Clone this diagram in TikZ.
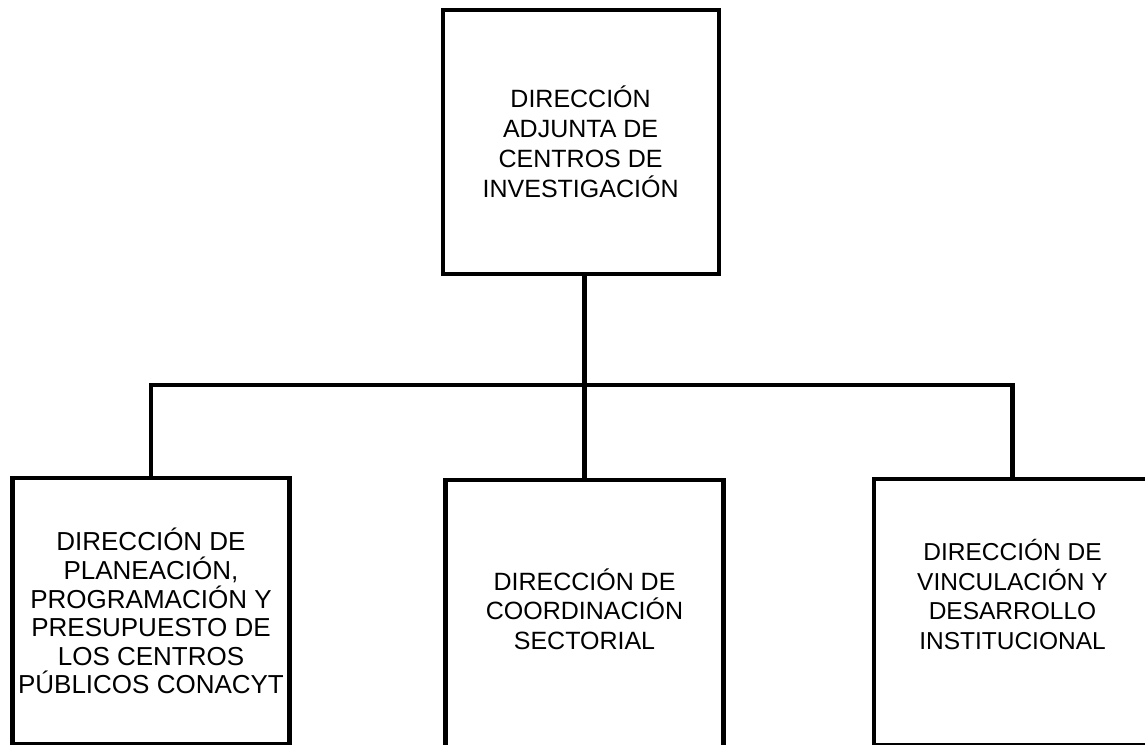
\documentclass[tikz,border=0pt]{standalone}
\usepackage{fontspec}
\setmainfont{Liberation Sans}
\begin{document}
\begin{tikzpicture}[x=1pt,y=1pt,
    unidad/.style={draw, line width=4.2pt, line join=miter, rectangle, anchor=north,
      inner sep=0pt, outer sep=0pt, minimum width=277pt, minimum height=266pt,
      align=center, font=\fontsize{25}{30}\selectfont},
    rotulo/.style={align=center, font=\fontsize{24.5}{29.5}\selectfont},
    conn/.style={line width=4.2pt, line join=miter}]
   \useasboundingbox (0,0) rectangle (1145,-744);
   \clip (0,0) rectangle (1145,-744);
      \node[unidad, minimum width=276pt, minimum height=264pt] (adjunta) at (580.6,-9.7)
         {DIRECCIÓN\\ADJUNTA DE\\CENTROS DE\\INVESTIGACIÓN};

      \node[unidad, font=\fontsize{26}{28.6}\selectfont] (planeacion) at (151,-478.3)
         {DIRECCIÓN DE\\PLANEACIÓN,\\PROGRAMACIÓN Y\\PRESUPUESTO DE\\LOS CENTROS\\PÚBLICOS CONACYT};
      \node[unidad, minimum width=278pt, minimum height=280pt] (coordinacion) at (584.5,-480.3) {};
      \node[rotulo, font=\fontsize{25}{29.5}\selectfont] (coordinacion-txt) at (584.5,-609)
         {DIRECCIÓN DE\\COORDINACIÓN\\SECTORIAL};
      \node[unidad] (vinculacion) at (1012.5,-478.7) {};
      \node[rotulo] (vinculacion-txt) at ([yshift=17pt]vinculacion.center)
         {DIRECCIÓN DE\\VINCULACIÓN Y\\DESARROLLO\\INSTITUCIONAL};

      \coordinate (bus) at (0,-384.7);
      \draw[conn] (coordinacion.north) -- (coordinacion.north |- adjunta.south);
      \draw[conn] (planeacion.north) |- (coordinacion.north |- bus) -| (vinculacion.north);
   \end{tikzpicture}
\end{document}
